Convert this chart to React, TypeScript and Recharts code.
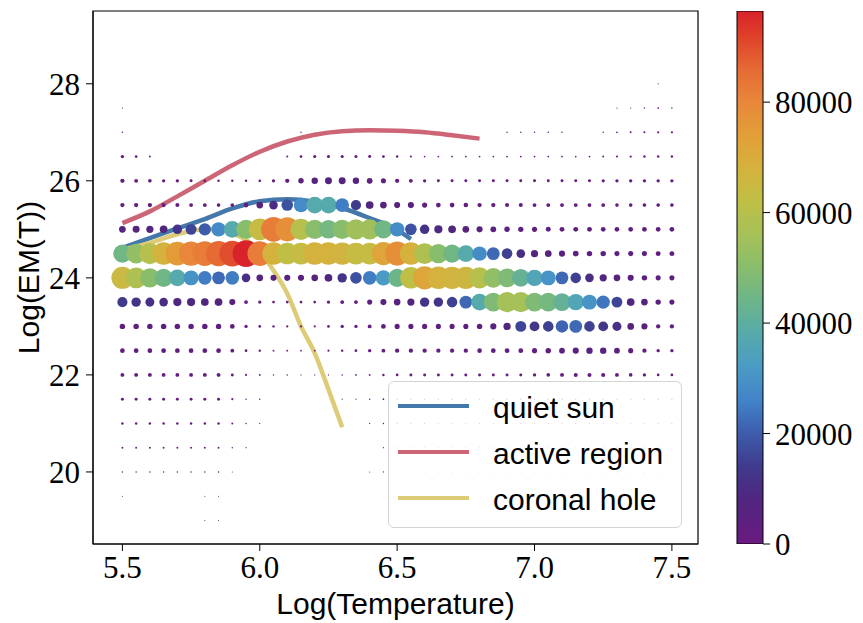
import {
  ComposedChart, Scatter, Line, Bar, XAxis, YAxis, Legend, ReferenceArea,
} from "recharts"

// temperature grid (log T)
const temps = [
  5.5, 5.55, 5.6, 5.65, 5.7, 5.75, 5.8, 5.85, 5.9, 5.95,
  6.0, 6.05, 6.1, 6.15, 6.2, 6.25, 6.3, 6.35, 6.4, 6.45,
  6.5, 6.55, 6.6, 6.65, 6.7, 6.75, 6.8, 6.85, 6.9, 6.95,
  7.0, 7.05, 7.1, 7.15, 7.2, 7.25, 7.3, 7.35, 7.4, 7.45,
  7.5,
]

const emLevels = [28, 27.5, 27, 26.5, 26, 25.5, 25, 24.5, 24, 23.5, 23, 22.5, 22, 21.5, 21, 20.5, 20, 19.5, 19]

// counts per cell, in thousands
const row280 = [0,0,0,0,0,0,0,0,0,0, 0,0,0,0,0,0,0,0,0,0, 0,0,0,0,0,0,0,0,0,0, 0,0,0,0,0,0,0,0,0,0.2, 0]
const row275 = [0.2,0,0,0,0,0,0,0,0,0, 0,0,0,0,0,0,0,0,0,0, 0,0,0,0,0,0,0,0,0,0, 0,0,0,0,0,0,0.2,0.2,0.3,0.4, 0.3]
const row270 = [0.3,0,0,0,0,0,0,0,0,0, 0,0,0,0.3,0,0,0,0,0,0, 0,0,0,0,0,0,0,0,0.3,0.3, 0.3,0.3,0.3,0,0,0.3,0.4,0.5,0.6,0.7, 0.7]
const row265 = [1.5,1.0,0.5,0,0,0,0,0,0,0, 0,0,0.6,1.0,1.3,1.3,1.3,1.3,1.2,1.0, 0.8,0.6,0.4,0.4,0.4,0.4,0.4,0.4,0.4,0.4, 0.4,0.4,0.4,0.4,0.4,0.5,0.6,0.7,0.8,0.8, 0.8]
const row260 = [2.5,2.0,1.8,1.5,1.5,1.2,1.0,0.8,0.8,0.8, 1.0,1.5,2.5,4.0,5.5,6.5,6.5,5.5,4.5,3.5, 2.5,2.0,1.5,1.2,1.2,1.2,1.2,1.2,1.2,1.2, 1.2,1.2,1.2,1.2,1.2,1.4,1.5,1.5,1.5,1.5, 1.5]
const row255 = [2.5,2.5,2.5,2.5,2.2,2.0,2.0,1.8,1.8,3.0, 6,10,18,28,38,38,25,14,8,6, 5,5,3.5,3,3,2.8,2.5,2.5,2.2,2.2, 2,2,2,2,2,2,1.8,1.8,1.8,1.8, 1.8]
const row250 = [6,6.5,7,8,12,16,20,28,38,50, 64,82,78,60,50,46,50,55,55,45, 28,18,12,9,8,6,5,4.5,4,3.8, 3.5,3.3,3.2,3.2,3.2,3,3,3,3,3, 3]
const row245 = [45,52,60,68,75,80,82,86,90,96.5, 82,68,62,64,68,68,67,64,64,72, 78,68,58,50,45,38,28,22,15,10, 7,6,5,4.5,4,4,3.5,3.5,3.5,3.2, 3.2]
const row240 = [65,58,50,45,38,30,25,22,25,10, 6,5,5,5,6,8,12,18,25,32, 44,62,72,68,67,66,60,52,48,42, 36,30,22,15,10,7,6,5,4,3.5, 3.5]
const row235 = [14,12,11,10,9,9,8,8,5,2, 1.5,1,1,1,1,1.5,2,2,3.5,5, 6,7,12,12,15,22,38,48,56,56, 48,46,42,36,30,24,16,8,6,4, 3.5]
const row230 = [4,4,4,4,4,4,4,4,3,1.5, 1,0.8,0.7,0.6,0.6,1,1.5,1.5,2,3, 3.5,3.5,3.5,3.5,3.5,3.5,4,5,7,16, 13,15,21,22,15,13,11,6,5,2.5, 2.5]
const row225 = [3,3,3,3,3,3,3,3,2,1, 0.8,0.5,0.5,0.4,0.4,0.6,0.8,1,1.5,2, 2.5,2.5,2.5,2.5,2.5,2.5,2.8,3,3,3, 3.5,4,4.5,5,5.5,5.5,4.5,3.5,2.5,1.5, 1.5]
const row220 = [2,2,2,2,2,2,2,2,1.2,0.6, 0.5,0.3,0.3,0.2,0.2,0.2,0.3,0.4,0.5,0.8, 1,1.2,1.2,1.2,1.2,1.2,1.2,1.2,1.2,1.2, 1.5,1.8,2,2.2,2.2,2.2,2,1.8,1.5,1, 1]
const row215 = [1.2,1.2,1.2,1.2,1.2,1.2,1.2,1.2,0.6,0.3, 0.3,0,0,0,0,0,0.2,0.2,0.3,0.4, 0.3,0.3,0.3,0.3,0.3,0.3,0.3,0.3,0.3,0.3, 0.3,0.3,0.3,0.3,0.3,0.3,0.3,0.3,0.3,0.3, 0.3]
const row210 = [0.8,0.8,0.8,0.8,0.8,0.8,0.8,0.8,0.5,0.3, 0.2,0,0,0,0,0,0,0,0.2,0.3, 0.2,0.2,0.2,0.2,0.2,0.2,0.2,0.2,0.2,0.2, 0.2,0.2,0.2,0.2,0.2,0.2,0.2,0.2,0.2,0.2, 0.2]
const row205 = [0.5,0.5,0.5,0.5,0.5,0.5,0.5,0.5,0.3,0.2, 0,0,0,0,0,0,0,0,0,0.2, 0.15,0.15,0.15,0.15,0.15,0.15,0.15,0.15,0.15,0.15, 0.15,0.15,0.15,0.15,0.15,0.15,0.15,0.15,0.15,0.15, 0.15]
const row200 = [0.3,0.3,0.3,0.3,0.3,0.3,0.3,0.3,0.15,0, 0,0,0,0,0,0,0,0,0.15,0.2, 0,0,0.15,0.15,0.15,0.15,0.15,0.15,0.15,0.15, 0.15,0.15,0.15,0.15,0.15,0.15,0.15,0.15,0.15,0.15, 0.15]
const row195 = [0.15,0,0,0,0,0,0.15,0.15,0,0, 0,0,0,0,0,0,0,0,0,0, 0,0,0,0,0,0,0,0,0,0, 0,0,0,0,0,0,0,0,0,0, 0]
const row190 = [0,0,0,0,0,0,0.15,0.15,0,0, 0,0,0,0,0,0,0,0,0,0, 0,0,0,0,0,0,0,0,0,0, 0,0,0,0,0,0,0,0,0,0, 0]

const rows = [row280, row275, row270, row265, row260, row255, row250, row245, row240, row235,
  row230, row225, row220, row215, row210, row205, row200, row195, row190]

// model curves
const quietSunT = [5.5, 5.6, 5.7, 5.8, 5.9, 6.0, 6.1, 6.2, 6.3, 6.4, 6.5, 6.55]
const quietSunEM = [24.62, 24.82, 25.02, 25.21, 25.43, 25.58, 25.62, 25.57, 25.44, 25.23, 24.99, 24.8]
const activeT = [5.5, 5.6, 5.7, 5.8, 5.9, 6.0, 6.1, 6.2, 6.3, 6.4, 6.5, 6.6, 6.7, 6.8]
const activeEM = [25.13, 25.37, 25.68, 26.0, 26.32, 26.6, 26.81, 26.95, 27.02, 27.04, 27.03, 27.0, 26.94, 26.87]
const coronalT = [5.5, 5.6, 5.7, 5.8, 5.85, 5.9, 6.0, 6.05, 6.1, 6.15, 6.2, 6.25, 6.3]
const coronalEM = [24.58, 24.72, 24.9, 25.0, 25.0, 24.92, 24.54, 24.15, 23.68, 23.0, 22.45, 21.7, 20.92]

const seriesNames = ["quiet sun", "active region", "coronal hole"]
const xTicks = [5.5, 6.0, 6.5, 7.0, 7.5]
const yTicks = [20, 22, 24, 26, 28]
const cbarTicks = [0, 20000, 40000, 60000, 80000]
const cbarMax = 96500

// colormap stops (count in thousands -> colour)
const cmap: [number, string][] = [
  [0, "#6a1a80"], [8, "#50267f"], [14, "#403a8c"], [20, "#3d5cab"], [26, "#4283c8"],
  [32, "#4a9bc5"], [38, "#56aaab"], [44, "#6cb58a"], [50, "#88bd6c"], [56, "#a6c158"],
  [62, "#bfbf46"], [68, "#d4b23d"], [74, "#e29f38"], [80, "#e8873a"], [86, "#e56a34"],
  [92, "#df4029"], [96.5, "#d8232a"],
]

const hex = (h: string) => [1, 3, 5].map(i => parseInt(h.slice(i, i + 2), 16))

function colorFor(k: number) {
  for (let i = 1; i < cmap.length; i++) {
    if (k <= cmap[i][0]) {
      const [k0, c0] = cmap[i - 1]
      const [k1, c1] = cmap[i]
      const f = (k - k0) / (k1 - k0)
      const a = hex(c0), b = hex(c1)
      return `rgb(${a.map((v, j) => Math.round(v + (b[j] - v) * f)).join(",")})`
    }
  }
  return cmap[cmap.length - 1][1]
}

const dots: { t: number; em: number; c: number }[] = []
emLevels.forEach((em, r) => {
  rows[r].forEach((c, i) => {
    if (c > 0) dots.push({ t: temps[i], em, c })
  })
})

const toLine = (ts: number[], ems: number[]) => ts.map((t, i) => ({ t, em: ems[i] }))
const quietSun = toLine(quietSunT, quietSunEM)
const activeRegion = toLine(activeT, activeEM)
const coronalHole = toLine(coronalT, coronalEM)

const cbarData = [{ name: "count", v: cbarMax }]

const serif = "'Liberation Serif', 'DejaVu Serif', serif"
const sans = "'Liberation Sans', Arial, sans-serif"

const renderDot = (props: any) => {
  const { cx, cy, payload } = props
  if (cx == null || cy == null) return <g />
  const r = 13.4 * Math.sqrt(payload.c / 96.5)
  return <circle cx={cx} cy={cy} r={r} fill={colorFor(payload.c)} />
}

const renderLegend = (props: any) => {
  const items = (props.payload || [])
    .filter((p: any) => p.type !== "none")
    .sort((a: any, b: any) => seriesNames.indexOf(a.value) - seriesNames.indexOf(b.value))
  return (
    <div style={{
      position: "absolute", left: 0, top: 0, width: 294, height: 147, boxSizing: "border-box",
      border: "1.5px solid #d4d4d4", borderRadius: 6, background: "rgba(255,255,255,0.8)",
    }}>
      {items.map((p: any, i: number) => (
        <div key={p.value} style={{
          position: "absolute", left: 9, top: 1 + 46 * i, height: 46,
          display: "flex", alignItems: "center",
        }}>
          <div style={{ width: 71, height: 4.5, background: p.color }} />
          <span style={{
            marginLeft: 24, fontFamily: sans, fontSize: 30, lineHeight: 1, color: "#000",
            paddingTop: 3, whiteSpace: "nowrap",
          }}>{p.value}</span>
        </div>
      ))}
    </div>
  )
}

export default function App() {
  return (
    <div style={{ position: "absolute", left: 0, top: 0, width: 863, height: 623, background: "#fff" }}>
      <div style={{ position: "absolute", left: 0, top: 0 }}>
        <ComposedChart width={863} height={623} margin={{ top: 11, right: 165, bottom: 0, left: 0 }}>
          <XAxis
            type="number" dataKey="t" domain={[5.393, 7.595]} ticks={xTicks} allowDataOverflow
            height={79} tickSize={7} tickMargin={5} stroke="#000"
            tick={{ fontFamily: serif, fontSize: 31, fill: "#000" }}
            tickFormatter={(v: number) => v.toFixed(1)}
            label={{
              content: ({ viewBox }: any) => (
                <text x={viewBox.x + viewBox.width / 2} y={614} textAnchor="middle"
                  fontFamily={sans} fontSize={30} fill="#000">Log(Temperature)</text>
              ),
            }}
          />
          <YAxis
            type="number" dataKey="em" domain={[18.515, 29.5]} ticks={yTicks} allowDataOverflow
            width={93} tickSize={7} tickMargin={6} stroke="#000"
            tick={{ fontFamily: serif, fontSize: 31, fill: "#000" }}
            label={{
              content: ({ viewBox }: any) => {
                const cx = 28
                const cy = viewBox.y + viewBox.height / 2
                return (
                  <text x={cx} y={cy} transform={`rotate(-90, ${cx}, ${cy})`} textAnchor="middle"
                    dominantBaseline="central" fontFamily={sans} fontSize={30} fill="#000">Log(EM(T))</text>
                )
              },
            }}
          />
          <ReferenceArea x1={5.393} x2={7.595} y1={18.515} y2={29.5} fill="none" stroke="#000"
            strokeWidth={1.2} ifOverflow="visible" />
          <Scatter data={dots} shape={renderDot} legendType="none" isAnimationActive={false} />
          <Line data={quietSun} dataKey="em" name={seriesNames[0]} type="monotone" stroke="#4477AA"
            strokeWidth={4.5} dot={false} isAnimationActive={false} />
          <Line data={activeRegion} dataKey="em" name={seriesNames[1]} type="monotone" stroke="#CC6677"
            strokeWidth={4.5} dot={false} isAnimationActive={false} />
          <Line data={coronalHole} dataKey="em" name={seriesNames[2]} type="monotone" stroke="#DDCC77"
            strokeWidth={4.5} dot={false} isAnimationActive={false} />
          <Legend content={renderLegend} layout="vertical" align="center" verticalAlign="middle"
            wrapperStyle={{ position: "absolute", left: 388, top: 381, width: 294, height: 147 }} />
        </ComposedChart>
      </div>
      <div style={{ position: "absolute", left: 700, top: 0 }}>
        <ComposedChart width={163} height={623} data={cbarData}
          margin={{ top: 11, right: 0, bottom: 79, left: 37 }} barCategoryGap={0} barGap={0}>
          <defs>
            <linearGradient id="cmapGrad" x1="0" y1="1" x2="0" y2="0">
              {cmap.map(([k, c]) => (
                <stop key={k} offset={`${(k / 96.5) * 100}%`} stopColor={c} />
              ))}
            </linearGradient>
          </defs>
          <XAxis dataKey="name" type="category" hide />
          <YAxis orientation="right" type="number" domain={[0, cbarMax]} ticks={cbarTicks}
            allowDataOverflow width={100} axisLine={false} tickSize={7} tickMargin={5} stroke="#000"
            tick={{ fontFamily: serif, fontSize: 31, fill: "#000" }} />
          <Bar dataKey="v" fill="url(#cmapGrad)" stroke="#000" strokeWidth={1}
            isAnimationActive={false} />
        </ComposedChart>
      </div>
    </div>
  )
}
